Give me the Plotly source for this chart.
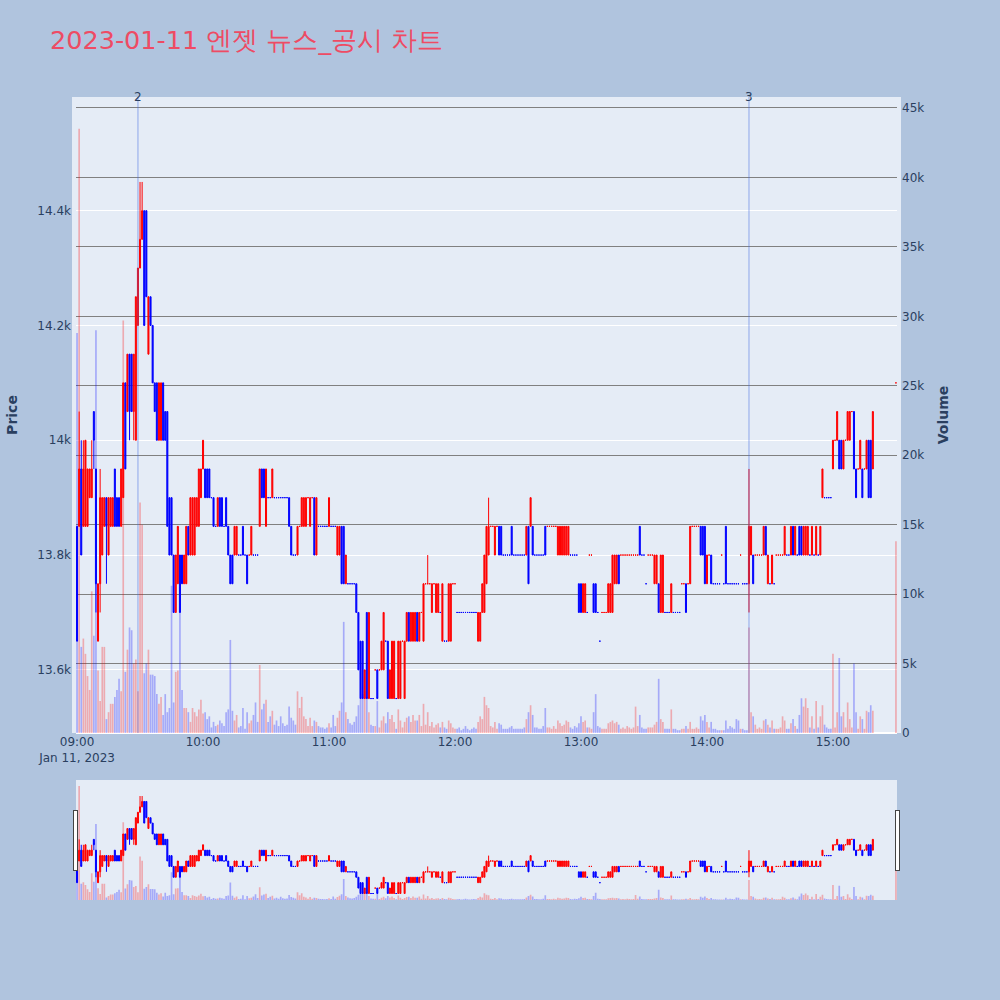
import pandas as pd
import plotly.graph_objects as go
from plotly.subplots import make_subplots

# minute offsets from 09:00 (trading minutes 09:00-15:19, closing auction 15:30)
minute_offsets = list(range(380)) + [390]

opens = [
    13850,13850,13950,13850,13850,13850,13900,13900,14050,13950,
    13650,13750,13800,13850,13900,13800,13850,13850,13950,13900,
    13900,13850,13900,14100,14050,14150,14150,14050,14000,14200,
    14300,14350,14400,14400,14150,14250,14200,14100,14100,14000,
    14000,14100,14050,14050,13900,13900,13800,13700,13750,13800,
    13800,13750,13750,13850,13800,13800,13800,13850,13850,13900,
    13950,13950,13950,13950,13900,13900,13850,13850,13900,13900,
    13850,13900,13850,13800,13800,13800,13800,13800,13800,13850,
    13800,13800,13800,13800,13800,13800,13800,13850,13950,13950,
    13850,13900,13900,13900,13900,13900,13900,13900,13900,13900,
    13900,13900,13850,13800,13800,13800,13850,13850,13850,13850,
    13900,13850,13900,13900,13800,13850,13850,13850,13850,13850,
    13850,13850,13850,13850,13800,13800,13850,13850,13750,13750,
    13750,13750,13750,13750,13700,13650,13650,13550,13700,13550,
    13550,13550,13600,13600,13600,13600,13600,13650,13650,13550,
    13550,13550,13550,13550,13550,13650,13550,13650,13700,13650,
    13650,13650,13700,13650,13700,13650,13750,13750,13750,13700,
    13750,13700,13700,13700,13650,13650,13650,13650,13650,13750,
    13750,13700,13700,13700,13700,13700,13700,13700,13700,13700,
    13700,13650,13650,13700,13700,13750,13800,13850,13850,13800,
    13850,13850,13850,13800,13800,13800,13800,13850,13800,13800,
    13800,13800,13800,13800,13800,13850,13850,13850,13800,13800,
    13800,13800,13800,13850,13850,13850,13850,13850,13850,13800,
    13800,13800,13800,13800,13800,13800,13800,13800,13800,13750,
    13750,13700,13700,13700,13800,13800,13750,13750,13700,13650,
    13700,13700,13700,13700,13700,13700,13750,13750,13800,13800,
    13800,13800,13800,13800,13800,13800,13800,13800,13850,13800,
    13800,13750,13800,13800,13800,13750,13750,13750,13700,13700,
    13700,13700,13700,13700,13700,13700,13700,13700,13750,13750,
    13750,13750,13750,13850,13850,13850,13850,13850,13850,13850,
    13750,13800,13800,13750,13750,13750,13750,13800,13750,13850,
    13750,13750,13750,13750,13750,13750,13800,13750,13750,13750,
    13750,13800,13800,13800,13800,13800,13800,13800,13850,13750,
    13750,13750,13750,13800,13800,13800,13800,13800,13800,13800,
    13800,13850,13800,13800,13850,13850,13800,13800,13800,13800,
    13800,13800,13800,13800,13800,13900,13900,13900,13900,13900,
    13950,14000,14000,14000,14000,13950,14000,14000,14000,14050,
    14050,13950,13950,13950,13950,13950,13950,14000,14000,13950,
    14100,
]

highs = [
    13850,14050,14000,14000,14000,13950,13950,14000,14050,13950,
    13750,13950,13900,13900,13900,13900,13900,13900,13950,13900,
    13900,13950,14100,14100,14150,14150,14150,14150,14250,14300,
    14450,14450,14400,14400,14250,14250,14200,14100,14100,14100,
    14100,14100,14050,14050,13900,13900,13800,13800,13850,13800,
    13800,13800,13850,13850,13900,13900,13900,13900,13950,13950,
    14000,13950,13950,13950,13900,13900,13850,13900,13900,13900,
    13850,13900,13850,13800,13800,13850,13850,13800,13800,13850,
    13800,13800,13800,13850,13800,13800,13800,13950,13950,13950,
    13950,13900,13900,13950,13900,13900,13900,13900,13900,13900,
    13900,13900,13850,13800,13800,13850,13850,13900,13900,13900,
    13900,13900,13900,13900,13900,13850,13850,13850,13850,13850,
    13900,13850,13850,13850,13850,13850,13850,13850,13800,13750,
    13750,13750,13750,13750,13700,13650,13650,13600,13700,13700,
    13550,13550,13600,13600,13600,13650,13700,13650,13650,13600,
    13650,13650,13550,13650,13650,13650,13650,13700,13700,13700,
    13700,13700,13700,13700,13700,13750,13750,13800,13750,13750,
    13750,13750,13750,13700,13750,13650,13650,13750,13750,13750,
    13750,13700,13700,13700,13700,13700,13700,13700,13700,13700,
    13700,13700,13700,13750,13800,13850,13900,13850,13850,13850,
    13850,13850,13850,13800,13800,13800,13800,13850,13800,13800,
    13800,13800,13800,13800,13850,13850,13900,13850,13800,13800,
    13800,13800,13800,13850,13850,13850,13850,13850,13850,13850,
    13850,13850,13850,13850,13850,13800,13800,13800,13800,13750,
    13750,13750,13750,13700,13800,13800,13750,13750,13700,13650,
    13700,13700,13700,13750,13750,13800,13800,13800,13800,13800,
    13800,13800,13800,13800,13800,13800,13800,13800,13850,13800,
    13800,13750,13800,13800,13800,13800,13800,13750,13800,13800,
    13700,13700,13700,13750,13700,13700,13700,13700,13750,13750,
    13750,13750,13850,13850,13850,13850,13850,13850,13850,13850,
    13800,13800,13800,13750,13750,13750,13750,13800,13750,13850,
    13750,13750,13750,13750,13750,13750,13800,13750,13750,13750,
    13950,13850,13800,13800,13800,13800,13800,13850,13850,13800,
    13750,13800,13750,13800,13800,13800,13800,13850,13800,13800,
    13850,13850,13850,13800,13850,13850,13850,13850,13850,13800,
    13850,13800,13850,13800,13850,13950,13900,13900,13900,13900,
    14000,14000,14050,14000,14000,14000,14000,14050,14050,14050,
    14050,13950,13950,14000,13950,13950,14000,14000,14000,14050,
    14100,
]

lows = [
    13650,13850,13800,13850,13850,13850,13900,13900,13950,13700,
    13650,13700,13800,13850,13750,13800,13850,13850,13850,13850,
    13850,13850,13900,13950,14050,14000,14050,14000,14000,14200,
    14300,14350,14200,14250,14150,14200,14100,14050,14000,14000,
    14000,14000,14000,13850,13800,13800,13700,13700,13750,13700,
    13750,13750,13750,13800,13800,13800,13800,13850,13850,13900,
    13950,13900,13900,13900,13900,13850,13850,13850,13850,13850,
    13850,13850,13800,13750,13750,13800,13800,13800,13800,13800,
    13800,13750,13800,13800,13800,13800,13800,13850,13900,13900,
    13850,13900,13900,13900,13900,13900,13900,13900,13900,13900,
    13900,13850,13800,13800,13800,13800,13850,13850,13850,13850,
    13900,13850,13900,13800,13800,13850,13850,13850,13850,13850,
    13850,13850,13850,13850,13800,13800,13750,13750,13750,13750,
    13750,13750,13750,13700,13600,13550,13550,13550,13550,13550,
    13550,13550,13600,13550,13600,13600,13600,13650,13550,13550,
    13550,13550,13550,13550,13550,13650,13550,13650,13650,13650,
    13650,13650,13650,13650,13700,13650,13750,13750,13750,13700,
    13750,13700,13700,13700,13650,13650,13650,13650,13650,13750,
    13750,13700,13700,13700,13700,13700,13700,13700,13700,13700,
    13700,13650,13650,13700,13700,13750,13800,13850,13850,13800,
    13850,13800,13800,13800,13800,13800,13800,13800,13800,13800,
    13800,13800,13800,13800,13800,13750,13850,13800,13800,13800,
    13800,13800,13800,13800,13850,13850,13850,13850,13850,13800,
    13800,13800,13800,13800,13800,13800,13800,13800,13800,13700,
    13700,13700,13700,13700,13800,13800,13700,13700,13700,13650,
    13700,13700,13700,13700,13700,13700,13750,13750,13750,13800,
    13800,13800,13800,13800,13800,13800,13800,13800,13800,13800,
    13800,13750,13800,13800,13800,13750,13750,13700,13700,13700,
    13700,13700,13700,13700,13700,13700,13700,13700,13750,13750,
    13700,13750,13750,13850,13850,13850,13850,13800,13800,13750,
    13750,13800,13750,13750,13750,13750,13750,13800,13750,13750,
    13750,13750,13750,13750,13750,13750,13800,13750,13750,13750,
    13700,13800,13750,13800,13800,13800,13800,13800,13800,13750,
    13750,13750,13750,13800,13800,13800,13800,13800,13800,13800,
    13800,13800,13800,13800,13800,13800,13800,13800,13800,13800,
    13800,13800,13800,13800,13800,13900,13900,13900,13900,13900,
    13950,14000,14000,13950,13950,13950,14000,14000,14000,14050,
    13950,13900,13950,13950,13900,13950,13950,13900,13900,13950,
    14100,
]

closes = [
    13650,13950,13800,13950,14000,13950,13950,13950,14000,13750,
    13750,13900,13900,13900,13850,13900,13900,13900,13850,13850,
    13850,13950,14100,13950,14150,14050,14050,14150,14250,14300,
    14350,14400,14200,14250,14250,14200,14100,14050,14000,14100,
    14100,14000,14000,13850,13800,13800,13700,13800,13850,13700,
    13750,13800,13850,13800,13900,13900,13900,13900,13950,13950,
    14000,13900,13900,13900,13900,13850,13850,13900,13850,13850,
    13850,13850,13800,13750,13750,13850,13850,13800,13800,13800,
    13800,13750,13800,13850,13800,13800,13800,13950,13900,13900,
    13950,13900,13900,13950,13900,13900,13900,13900,13900,13900,
    13900,13850,13800,13800,13800,13850,13850,13900,13900,13900,
    13900,13900,13900,13800,13900,13850,13850,13850,13850,13850,
    13900,13850,13850,13850,13850,13850,13750,13750,13800,13750,
    13750,13750,13750,13700,13600,13550,13550,13600,13550,13700,
    13550,13550,13600,13550,13600,13650,13700,13650,13550,13600,
    13650,13650,13550,13650,13650,13650,13650,13700,13650,13700,
    13700,13700,13650,13700,13700,13750,13750,13750,13750,13750,
    13750,13750,13750,13700,13750,13650,13650,13750,13750,13750,
    13750,13700,13700,13700,13700,13700,13700,13700,13700,13700,
    13700,13700,13700,13750,13800,13850,13850,13850,13850,13850,
    13850,13800,13800,13800,13800,13800,13800,13800,13800,13800,
    13800,13800,13800,13800,13850,13750,13900,13800,13800,13800,
    13800,13800,13800,13800,13850,13850,13850,13850,13850,13850,
    13850,13850,13850,13850,13850,13800,13800,13800,13800,13700,
    13700,13750,13750,13700,13800,13800,13700,13700,13700,13650,
    13700,13700,13700,13750,13750,13800,13800,13800,13750,13800,
    13800,13800,13800,13800,13800,13800,13800,13800,13800,13800,
    13800,13750,13800,13800,13800,13800,13800,13700,13800,13800,
    13700,13700,13700,13750,13700,13700,13700,13700,13750,13750,
    13700,13750,13850,13850,13850,13850,13850,13800,13800,13750,
    13800,13800,13750,13750,13750,13750,13750,13800,13750,13750,
    13750,13750,13750,13750,13750,13750,13800,13750,13750,13750,
    13850,13850,13750,13800,13800,13800,13800,13850,13800,13800,
    13750,13800,13750,13800,13800,13800,13800,13850,13800,13800,
    13850,13800,13850,13800,13800,13800,13850,13850,13850,13800,
    13850,13800,13850,13800,13850,13950,13900,13900,13900,13900,
    14000,14000,14050,13950,13950,14000,14000,14050,14050,14050,
    13950,13900,13950,14000,13900,13950,14000,13900,13900,14050,
    14100,
]

volumes = [
    28800,43500,6200,6800,5700,4100,3100,10200,7000,29000,
    4500,2300,6200,6200,1000,1500,2100,2100,2600,3100,
    3900,3000,29700,4400,6000,7600,7400,5000,5300,3000,
    16600,15000,4300,5000,6000,4200,4200,4100,2800,2100,
    2600,1300,2800,1500,1800,10600,2200,4400,4500,10500,
    3100,1800,1800,1500,800,1800,1500,1200,1700,2400,
    1400,1500,1000,1200,400,800,500,600,900,700,
    500,1500,1700,6700,1600,900,1300,400,500,1800,
    300,1500,700,900,1300,2200,800,4900,1700,2100,
    2400,800,1200,1600,600,900,500,1200,700,500,
    600,1900,1100,900,600,3000,1800,2600,1200,1000,
    500,1100,500,900,800,500,400,400,300,400,
    700,400,1300,500,1100,1600,2200,8000,1500,1000,
    700,600,800,1200,2000,2500,2800,3000,2600,1500,
    600,500,500,2300,400,900,1200,700,1500,1000,
    1300,800,300,1700,900,400,800,1100,1200,800,
    1300,900,900,1300,500,2100,600,1500,500,800,
    400,600,700,400,800,400,300,900,700,400,
    300,300,400,200,300,500,300,200,300,400,
    300,800,1200,1000,2600,2000,1800,500,400,800,
    300,700,600,300,300,300,400,500,300,300,
    300,300,300,400,1000,1500,2000,1300,400,400,
    300,300,500,1800,400,400,300,500,300,900,
    700,500,600,900,800,400,300,500,400,700,
    1200,800,900,400,400,300,1500,2800,500,400,
    300,300,300,700,800,900,700,800,600,300,
    400,300,500,400,300,400,1900,500,1300,400,
    300,300,400,400,400,600,800,3900,1000,800,
    300,300,300,1700,300,300,200,200,300,300,
    500,300,800,300,300,400,300,1200,900,1300,
    800,400,800,300,300,200,200,200,200,900,
    300,500,400,300,1000,900,300,300,200,200,
    7600,1500,1200,600,300,400,300,900,1000,600,
    400,900,300,300,300,400,1200,900,300,300,
    700,1000,500,300,1300,2500,1900,2500,1800,400,
    1200,300,2300,400,1200,2000,600,400,300,300,
    5700,400,1500,5400,1200,1500,400,2200,1000,400,
    5000,1500,300,1200,1000,300,1600,1500,2000,1600,
    13800,
]

news_times = ["2023-01-11 09:29", "2023-01-11 14:20"]
news_labels = ["2", "3"]

base = pd.Timestamp("2023-01-11 09:00")
times = [base + pd.Timedelta(minutes=m) for m in minute_offsets]

# volume colours follow the candle direction (doji -> compare with previous close)
vol_colors = []
inc = True
prev_c = None
for o, c in zip(opens, closes):
    if c > o:
        inc = True
    elif c < o:
        inc = False
    elif prev_c is not None and c != prev_c:
        inc = c > prev_c
    prev_c = c
    vol_colors.append("rgba(255,0,0,0.28)" if inc else "rgba(0,0,255,0.28)")

fig = make_subplots(specs=[[{"secondary_y": True}]])
fig.add_trace(go.Candlestick(
    x=times, open=opens, high=highs, low=lows, close=closes,
    increasing=dict(line=dict(color="red", width=1), fillcolor="red"),
    decreasing=dict(line=dict(color="blue", width=1), fillcolor="blue"),
    name="Price", showlegend=False), secondary_y=False)
fig.add_trace(go.Bar(
    x=times, y=volumes, marker=dict(color=vol_colors, line=dict(width=0)),
    name="Volume", showlegend=False), secondary_y=True)

# light frame around the plotting area (as in the reference)
pad = 4 / 821
fig.add_shape(type="rect", xref="paper", yref="paper", x0=-pad, x1=1 + pad, y0=0, y1=1,
              fillcolor="#E5ECF6", line=dict(width=0), layer="below")

for t, lab in zip(news_times, news_labels):
    fig.add_shape(type="line", x0=t, x1=t, y0=0, y1=1, xref="x", yref="paper",
                  line=dict(color="royalblue", width=1.5), opacity=0.35)
    fig.add_annotation(x=t, y=1, xref="x", yref="paper", text=lab, showarrow=False,
                       yanchor="middle", font=dict(size=12, color="#2a3f5f"))

fig.update_layout(
    width=1000, height=1000,
    font=dict(family="DejaVu Sans, Verdana, sans-serif"),
    title=dict(text="2023-01-11 엔젯 뉴스_공시 차트", x=0.05, y=0.96, yanchor="middle",
               font=dict(size=25.5, color="#EE4B64")),
    paper_bgcolor="lightsteelblue",
    margin=dict(l=76, r=103, t=97, b=100),
    showlegend=False,
    xaxis=dict(domain=[0, 1], rangeslider=dict(visible=True)),
)
fig.update_yaxes(title_text="<b>Price</b>", range=[13490, 14598], ticklabelstandoff=4,
                 title_standoff=16, secondary_y=False)
fig.update_yaxes(title_text="<b>Volume</b>", gridcolor="gray", ticklabelstandoff=4,
                 title_standoff=14, secondary_y=True)

fig.write_html("out.html", config={"displayModeBar": False},
               post_script="document.body.style.margin='0';document.body.style.overflow='hidden';")
